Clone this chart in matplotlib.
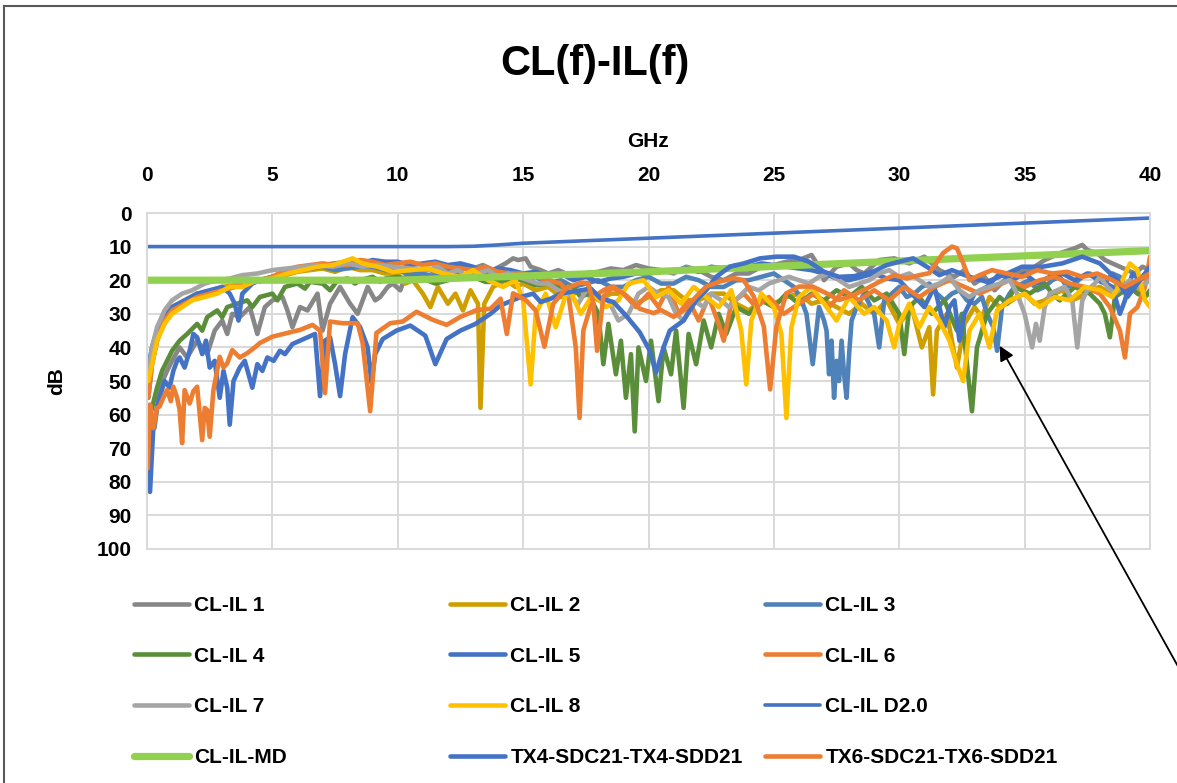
import numpy as np
import matplotlib.pyplot as plt
from matplotlib.lines import Line2D

plt.rcParams['font.family'] = ['Liberation Sans', 'DejaVu Sans']
plt.rcParams['font.weight'] = 'bold'

# (GHz, dB) points
cl1 = [(0.05, 62), (0.3, 64), (0.5, 52), (0.8, 47), (1.0, 44), (1.3, 40), (1.6, 43), (2.0, 38), (2.4, 42), (2.7, 35),
       (3.0, 32), (3.2, 36), (3.4, 30), (3.7, 31), (4.1, 28), (4.4, 36), (4.7, 28), (5.0, 26), (5.4, 25), (5.6, 29),
       (5.8, 34), (6.1, 28), (6.4, 29), (6.8, 24), (7.0, 35), (7.3, 27), (7.7, 22), (8.1, 27), (8.4, 30), (8.8, 22),
       (9.1, 26), (9.3, 25), (9.6, 22), (9.8, 21), (10.1, 23), (10.3, 19), (10.6, 18), (10.8, 17), (11.2, 16.5),
       (11.5, 18), (11.9, 16), (12.2, 17), (12.6, 16), (13.0, 16.5), (13.4, 15.5), (13.8, 17), (14.3, 15), (14.6, 13.5),
       (14.8, 14), (15.1, 13.5), (15.3, 16), (15.7, 17), (16.0, 18), (16.4, 17), (17.0, 19), (17.4, 18), (18.0, 17.5),
       (18.5, 16.5), (19.0, 17), (19.5, 15.5), (20.0, 16.5), (20.5, 17), (21.0, 18), (21.5, 16), (22.0, 17), (22.5, 19),
       (23.0, 20), (23.5, 18), (24.0, 18), (24.5, 16), (25.0, 15.5), (25.5, 14.5), (26.0, 14), (26.5, 12.5), (26.8, 16),
       (27.0, 20), (27.5, 16), (28.0, 15), (28.3, 17), (28.6, 18), (29.2, 14), (29.8, 13.5), (30.4, 15), (31.0, 13),
       (31.3, 15), (31.6, 17), (32.2, 19), (32.6, 17), (33.0, 21), (33.4, 19), (33.8, 23), (34.2, 20), (34.5, 18),
       (35.2, 17), (35.8, 14), (36.1, 13), (36.4, 12), (36.8, 11), (37.0, 10.5), (37.3, 9.5), (37.5, 11), (37.9, 12),
       (38.2, 14), (38.8, 16), (39.4, 18), (39.7, 16), (40.0, 17)]

cl2 = [(0.05, 47), (0.2, 42), (0.4, 36), (0.7, 31), (1.0, 28), (1.5, 26), (2.0, 24), (2.5, 23.5), (3.0, 22), (3.5, 21.5),
       (4.0, 20), (4.5, 20.5), (5.0, 19), (5.5, 18.5), (6.0, 17.5), (6.5, 17), (7.0, 16.5), (7.5, 17.5), (8.0, 16),
       (8.5, 17), (9.0, 17), (9.5, 18), (10.0, 18), (10.3, 21), (10.6, 20), (11.0, 24), (11.3, 28), (11.6, 22), (12.0, 27),
       (12.3, 24), (12.6, 29), (12.9, 23), (13.2, 27), (13.3, 58), (13.45, 27), (13.8, 22), (14.3, 20), (14.7, 22),
       (15.0, 21), (15.5, 23), (16.0, 22), (16.5, 25), (17.0, 24), (17.5, 23), (18.0, 26), (18.5, 24), (19.0, 24),
       (19.5, 27), (20.0, 25), (20.5, 23), (21.0, 23), (21.5, 26), (22.0, 26), (22.5, 24), (23.0, 24), (23.5, 27),
       (24.0, 29), (24.5, 26), (25.0, 27), (25.5, 25), (26.0, 24), (26.5, 27), (27.0, 26), (27.5, 28), (28.0, 30),
       (28.5, 27), (29.0, 30), (29.5, 26), (30.0, 33), (30.5, 28), (30.9, 40), (31.2, 34), (31.35, 54), (31.5, 35),
       (31.9, 30), (32.1, 38), (32.3, 46), (32.6, 33), (33.0, 28), (33.3, 31), (33.6, 25), (34.0, 28), (34.3, 27),
       (34.7, 25), (35.0, 24), (35.4, 27), (35.8, 26), (36.2, 24), (36.5, 23), (36.9, 26), (37.2, 25), (37.6, 23),
       (38.0, 22), (38.4, 24), (38.8, 20), (39.1, 22), (39.4, 22), (39.7, 25), (40.0, 24)]

cl3 = [(0.05, 55), (0.2, 45), (0.4, 38), (0.7, 32), (1.0, 29), (1.5, 27), (2.0, 25), (2.5, 24), (3.0, 23), (3.5, 22),
       (4.0, 21), (4.5, 20), (5.0, 19), (5.5, 18), (6.0, 17), (6.5, 16.5), (7.0, 16), (7.5, 17), (8.0, 16.5), (8.5, 16),
       (9.0, 16), (9.5, 17), (10.0, 17), (10.5, 18.5), (11.0, 18), (11.5, 19), (12.0, 17), (12.5, 18), (13.0, 19),
       (13.5, 17.5), (14.0, 18), (14.5, 19), (15.0, 20), (15.5, 19), (16.0, 21), (16.5, 20), (17.0, 22), (17.5, 21),
       (18.0, 20), (18.5, 22), (19.0, 22), (19.5, 20), (20.0, 19), (20.5, 21), (21.0, 21), (21.5, 19), (22.0, 20),
       (22.5, 22), (23.0, 22), (23.5, 20), (24.0, 20), (24.5, 19), (25.0, 18), (25.4, 20), (25.8, 22), (26.1, 26),
       (26.3, 30), (26.55, 45), (26.8, 28), (27.0, 32), (27.1, 35), (27.2, 48), (27.3, 38), (27.4, 55), (27.5, 44),
       (27.6, 50), (27.7, 38), (27.8, 48), (27.9, 55), (28.0, 42), (28.1, 32), (28.3, 28), (28.6, 24), (29.0, 30),
       (29.2, 40), (29.4, 26), (29.7, 24), (30.0, 22), (30.3, 25), (30.6, 24), (30.9, 22), (31.2, 21), (31.5, 24),
       (31.8, 26), (32.1, 24), (32.4, 23), (32.7, 26), (33.0, 27), (33.3, 25), (33.5, 30), (33.75, 34), (33.9, 41),
       (34.1, 28), (34.4, 24), (34.6, 22), (34.9, 21), (35.2, 20), (35.5, 23), (35.8, 22), (36.1, 20), (36.4, 19),
       (36.7, 22), (37.0, 21), (37.3, 19), (37.6, 18), (37.9, 20), (38.2, 21), (38.5, 18), (38.8, 19), (39.1, 23),
       (39.4, 22), (39.7, 19), (40.0, 20)]

cl4 = [(0.05, 62), (0.2, 58), (0.4, 52), (0.6, 47), (0.8, 44), (1.0, 41), (1.3, 38), (1.6, 36), (2.0, 33), (2.2, 35),
       (2.4, 31), (2.8, 29), (3.0, 31), (3.2, 28), (3.6, 27), (4.0, 26), (4.2, 28), (4.5, 25), (5.0, 24), (5.2, 26),
       (5.5, 22), (6.0, 21), (6.3, 22.5), (6.5, 20.5), (7.0, 21), (7.3, 23), (7.6, 20), (8.0, 19.5), (8.3, 21), (8.5, 20),
       (9.0, 19), (9.3, 20.5), (9.5, 19.5), (10.0, 19), (10.5, 20), (11.0, 19.5), (11.5, 21), (12.0, 20), (12.5, 19),
       (13.0, 19), (13.5, 20.5), (14.0, 20.5), (14.5, 19.5), (15.0, 20), (15.5, 21.5), (16.0, 21), (16.5, 22), (17.0, 22),
       (17.3, 25), (17.6, 24), (18.0, 30), (18.2, 45), (18.4, 33), (18.7, 48), (18.9, 38), (19.1, 55), (19.3, 42),
       (19.45, 65), (19.6, 40), (19.9, 50), (20.1, 38), (20.4, 56), (20.6, 40), (20.9, 48), (21.1, 35), (21.4, 58),
       (21.6, 36), (21.9, 45), (22.2, 32), (22.5, 40), (22.8, 30), (23.1, 36), (23.5, 28), (24.0, 30), (24.5, 26),
       (25.0, 28), (25.5, 24), (26.0, 27), (26.5, 24), (27.0, 26), (27.5, 23), (28.0, 25), (28.5, 22), (29.0, 26),
       (29.5, 24), (30.0, 30), (30.2, 42), (30.4, 28), (30.8, 25), (31.3, 30), (31.8, 26), (32.3, 35), (32.5, 30),
       (32.7, 45), (32.9, 59), (33.1, 40), (33.5, 30), (34.0, 25), (34.3, 27), (34.6, 22), (35.2, 24), (35.8, 21),
       (36.1, 24), (36.4, 26), (37.0, 22), (37.6, 24), (38.0, 27), (38.2, 30), (38.4, 37), (38.6, 25), (39.2, 22),
       (39.5, 24), (39.8, 25), (40.0, 23)]

cl5 = [(0.05, 46), (0.2, 40), (0.4, 35), (0.7, 31), (1.0, 28), (1.5, 26), (2.0, 24), (2.5, 23), (3.0, 22), (3.3, 24),
       (3.5, 27), (3.65, 32), (3.8, 24), (4.2, 21), (4.5, 20), (5.0, 19), (5.5, 18), (6.0, 17), (6.5, 16), (7.0, 15.5),
       (7.5, 15), (8.0, 14.5), (8.5, 15), (9.0, 14), (9.5, 14.5), (10.0, 14.5), (10.5, 15.5), (11.0, 15), (11.5, 14.5),
       (12.0, 15.5), (12.5, 15), (13.0, 16), (13.5, 17.5), (14.0, 16.5), (14.5, 17), (15.0, 18), (15.5, 17.5),
       (16.0, 19), (16.5, 18), (17.0, 20), (17.5, 19), (18.0, 20.5), (18.5, 19.5), (19.0, 19), (19.5, 18), (20.0, 18),
       (20.5, 17.5), (21.0, 17), (21.5, 16.5), (22.0, 17.5), (22.5, 16), (23.0, 16.5), (23.5, 15.5), (24.0, 16),
       (24.5, 15), (25.0, 15.5), (25.5, 16), (26.0, 16.5), (26.5, 17), (27.0, 18), (27.5, 19.5), (28.0, 20),
       (28.5, 19), (29.0, 18), (29.5, 19.5), (30.0, 20), (30.5, 24), (31.0, 28), (31.4, 22), (31.8, 34), (32.0, 28),
       (32.2, 26), (32.4, 38), (32.6, 30), (33.0, 24), (33.5, 22), (34.0, 18), (34.5, 20), (35.0, 18), (35.5, 21),
       (36.0, 19), (36.5, 18), (37.0, 20), (37.5, 18), (38.0, 20), (38.5, 22), (38.8, 30), (39.0, 26), (39.3, 18),
       (39.6, 20), (40.0, 18)]

cl6 = [(0.05, 55), (0.2, 45), (0.4, 38), (0.7, 32), (1.0, 29), (1.5, 27), (2.0, 25), (2.5, 24), (3.0, 23), (3.5, 22),
       (4.0, 21), (4.5, 20), (5.0, 19), (5.5, 17), (6.0, 16), (6.5, 15.5), (7.0, 15), (7.5, 15.5), (8.0, 15.5),
       (8.5, 14), (9.0, 14.5), (9.5, 15.5), (10.0, 15), (10.5, 14.5), (11.0, 15.5), (11.5, 15), (12.0, 16), (12.5, 16.5),
       (13.0, 17), (13.5, 16), (14.0, 17.5), (14.5, 18), (15.0, 18), (15.5, 19), (16.0, 20), (16.5, 21), (16.8, 24),
       (17.1, 40), (17.25, 61), (17.4, 35), (17.8, 25), (18.2, 23), (18.5, 22), (19.0, 24), (19.5, 28), (20.0, 24),
       (20.4, 28), (20.8, 22), (21.2, 30), (21.6, 26), (22.0, 32), (22.4, 25), (22.8, 33), (23.0, 38), (23.3, 27),
       (23.8, 24), (24.3, 28), (24.8, 25), (25.4, 30), (26.0, 27), (26.6, 24), (27.2, 28), (27.8, 23), (28.4, 26),
       (29.0, 23), (29.6, 26), (30.2, 22), (30.8, 25), (31.4, 22), (32.0, 20), (32.6, 22), (33.2, 24), (33.8, 22),
       (34.4, 20), (35.0, 22), (35.6, 20), (36.2, 19), (36.8, 21), (37.4, 22), (38.0, 24), (38.4, 28), (38.8, 35),
       (39.0, 43), (39.2, 30), (39.5, 28), (39.8, 22), (40.0, 13)]

cl7 = [(0.05, 48), (0.2, 40), (0.4, 34), (0.7, 29), (1.0, 26), (1.4, 24), (1.8, 23), (2.3, 21), (2.8, 20), (3.3, 19.5),
       (3.8, 18.5), (4.4, 18), (5.0, 17), (5.6, 16.5), (6.2, 16), (6.8, 15.5), (7.4, 16), (8.0, 15), (8.6, 16),
       (9.2, 15.5), (9.8, 16), (10.5, 16.5), (11.2, 17), (11.6, 16), (12.0, 18), (12.4, 17), (12.8, 19), (13.2, 18),
       (13.6, 17), (14.0, 19), (14.4, 18), (14.8, 19), (15.2, 20), (15.6, 21), (16.0, 21), (16.4, 23), (16.8, 24),
       (17.2, 27), (17.6, 22), (18.0, 25), (18.4, 26), (18.8, 32), (19.2, 30), (19.6, 24), (20.0, 22), (20.4, 24),
       (20.8, 25), (21.1, 30), (21.4, 32), (21.8, 26), (22.2, 28), (22.5, 24), (22.9, 26), (23.2, 28), (23.6, 25),
       (24.0, 22), (24.4, 23), (24.8, 21), (25.2, 20), (25.6, 19), (26.0, 20), (26.4, 21), (26.8, 19), (27.2, 18),
       (27.6, 20), (28.0, 22), (28.4, 21), (28.8, 20), (29.2, 18), (29.6, 17), (30.0, 19), (30.4, 18), (30.8, 20),
       (31.2, 22), (31.6, 21), (32.0, 19), (32.4, 23), (32.8, 25), (33.2, 23), (33.6, 22), (34.0, 21), (34.4, 20),
       (34.7, 24), (35.0, 30), (35.3, 40), (35.45, 33), (35.6, 38), (35.8, 28), (36.0, 24), (36.3, 23), (36.6, 22),
       (36.9, 26), (37.1, 40), (37.3, 26), (37.5, 23), (37.8, 21), (38.0, 19), (38.3, 22), (38.6, 24), (38.9, 22),
       (39.2, 20), (39.6, 22), (40.0, 20)]

cl8 = [(0.05, 50), (0.2, 45), (0.4, 38), (0.7, 33), (1.0, 30), (1.4, 28), (1.8, 26), (2.3, 25), (2.8, 24), (3.3, 22),
       (3.8, 22), (4.4, 20), (5.0, 19.5), (5.6, 18), (6.2, 17), (6.8, 16), (7.4, 15.5), (7.8, 14.5), (8.2, 13.5),
       (8.6, 15), (9.2, 16), (9.8, 17.5), (10.5, 17), (11.2, 16.5), (11.8, 18), (12.5, 19), (13.0, 17), (13.6, 20),
       (14.2, 22), (14.7, 20), (15.0, 26), (15.3, 51), (15.5, 30), (15.9, 24), (16.3, 34), (16.8, 22), (17.3, 30),
       (17.8, 24), (18.3, 28), (18.8, 26), (19.2, 21), (19.8, 20), (20.3, 25), (20.8, 23), (21.3, 27), (21.8, 22),
       (22.3, 25), (22.8, 28), (23.3, 23), (23.7, 35), (23.9, 51), (24.1, 32), (24.5, 24), (25.0, 28), (25.3, 36),
       (25.5, 61), (25.7, 34), (26.0, 25), (26.5, 22), (27.0, 27), (27.5, 32), (28.0, 25), (28.6, 30), (29.0, 28),
       (29.5, 32), (29.8, 40), (30.0, 33), (30.4, 27), (30.8, 34), (31.2, 28), (31.6, 32), (32.0, 38), (32.3, 45),
       (32.55, 50), (32.8, 35), (33.2, 30), (33.6, 40), (33.9, 29), (34.4, 26), (35.0, 24), (35.6, 28), (36.2, 25),
       (36.8, 26), (37.4, 22), (38.0, 23), (38.5, 25), (38.9, 20), (39.2, 15), (39.5, 17), (39.8, 26), (40.0, 28)]

cl_d20 = [(0, 10), (12, 10), (13, 9.9), (14, 9.5), (15, 9.0), (20, 7.5), (25, 6.0), (30, 4.5), (35, 3.0), (40, 1.5)]

cl_md = [(0, 20), (10, 20), (20, 17.5), (30, 14.3), (40, 11.2)]

tx4 = [(0.05, 60), (0.12, 83), (0.25, 64), (0.4, 58), (0.5, 55), (0.7, 50), (0.9, 52), (1.05, 47), (1.2, 44), (1.3, 43),
       (1.5, 46), (1.7, 41), (1.85, 36), (2.0, 37), (2.2, 42), (2.35, 38), (2.5, 46), (2.7, 44), (2.9, 55), (3.05, 47),
       (3.2, 52), (3.3, 63), (3.45, 50), (3.7, 46), (3.9, 44), (4.05, 48), (4.2, 52), (4.4, 45), (4.6, 47), (4.8, 43),
       (5.05, 44), (5.3, 41), (5.5, 42), (5.8, 39), (6.1, 38), (6.4, 37), (6.7, 36), (6.9, 54.5), (7.1, 38), (7.3, 37),
       (7.5, 45), (7.7, 54.5), (7.9, 42), (8.2, 31), (8.5, 34), (8.8, 40), (8.95, 50.5), (9.1, 42), (9.4, 37.5),
       (9.95, 35), (10.5, 33.5), (11.1, 36.5), (11.5, 45), (11.95, 37.5), (12.5, 35), (13.1, 33), (13.7, 30),
       (14.1, 27.5), (14.9, 25), (15.4, 24), (15.7, 26.5), (16.1, 25.5), (16.5, 24), (17.3, 23), (17.7, 22.5),
       (18.1, 25.5), (18.6, 26.5), (19.1, 30.5), (19.65, 35.5), (20.05, 41), (20.3, 47.5), (20.6, 40), (20.85, 35),
       (21.4, 32), (21.9, 26), (22.3, 23), (22.7, 19), (23.25, 16), (23.8, 15), (24.45, 13.5), (25.1, 13), (25.8, 13),
       (26.4, 14.5), (27.0, 17.5), (27.6, 19), (28.2, 18.8), (29.0, 17.3), (29.5, 15.5), (30.0, 14.5), (30.55, 13.5),
       (31.1, 16), (31.6, 18.5), (32.1, 17), (32.8, 19), (33.5, 20.5), (34.3, 18), (34.9, 16), (35.7, 16), (36.5, 15),
       (37.3, 13), (38.0, 15), (38.7, 20), (39.1, 25), (39.5, 21), (40.0, 16)]

tx6 = [(0.03, 76), (0.12, 57), (0.25, 64), (0.4, 58), (0.5, 57.6), (0.65, 55), (0.8, 52.7), (0.95, 56), (1.05, 51.7),
       (1.2, 55), (1.3, 58.6), (1.4, 68.5), (1.5, 52.7), (1.7, 56.7), (1.85, 53), (2.0, 51.7), (2.2, 67.6), (2.3, 58),
       (2.4, 58.6), (2.5, 66.6), (2.65, 52.7), (2.9, 42.8), (3.05, 46), (3.2, 44.7), (3.4, 40.8), (3.7, 43), (4.0, 41.7),
       (4.3, 40), (4.5, 38.7), (5.0, 36.8), (5.6, 35.7), (6.1, 34.8), (6.6, 33.3), (6.9, 35), (7.1, 53.6), (7.3, 32.3),
       (7.8, 32.8), (8.4, 32.8), (8.6, 38.7), (8.9, 59), (9.15, 35.7), (9.7, 32.8), (10.2, 32.3), (10.75, 29.4),
       (11.4, 31.8), (11.95, 33.3), (12.5, 30.9), (13.15, 28.9), (13.7, 28.5), (14.1, 25.5), (14.35, 36), (14.6, 23.9),
       (15.1, 25.9), (15.5, 29), (15.85, 39.8), (16.2, 27), (16.7, 22.5), (17.3, 20.7), (17.6, 21), (17.8, 26.9),
       (17.95, 41), (18.2, 24.9), (18.6, 21.9), (19.1, 24.5), (19.65, 28.5), (20.2, 29.8), (20.5, 28.9), (21.0, 30.9),
       (21.4, 29), (21.9, 24.9), (22.3, 21.9), (22.85, 20.4), (23.4, 19.4), (23.8, 20), (24.2, 24.9), (24.6, 33.8),
       (24.85, 52.5), (25.1, 33.8), (25.5, 23.9), (26.0, 21.9), (26.55, 21.9), (27.1, 23.9), (27.6, 25.9),
       (28.15, 24.5), (28.7, 22.5), (29.2, 20.5), (29.8, 18.5), (30.3, 19.5), (30.8, 18.5), (31.2, 17.9), (31.75, 11.9),
       (32.1, 10), (32.3, 10.5), (32.55, 14.9), (32.8, 20), (33.2, 18.5), (33.7, 17), (34.3, 18), (34.9, 19), (35.5, 17),
       (36.1, 18), (36.7, 17.5), (37.3, 19), (37.9, 18), (38.5, 20), (39.0, 22), (39.5, 20), (40.0, 18)]

labels = ["CL-IL 1", "CL-IL 2", "CL-IL 3", "CL-IL 4", "CL-IL 5", "CL-IL 6",
          "CL-IL 7", "CL-IL 8", "CL-IL D2.0", "CL-IL-MD", "TX4-SDC21-TX4-SDD21", "TX6-SDC21-TX6-SDD21"]
data = [cl1, cl2, cl3, cl4, cl5, cl6, cl7, cl8, cl_d20, cl_md, tx4, tx6]
colors = ["#878787", "#CF9E00", "#4F82B8", "#5B8E3A", "#4472C4", "#ED7D31",
          "#A5A5A5", "#FFC000", "#4472C4", "#92D050", "#4472C4", "#ED7D31"]
widths = [3.3, 3.3, 3.3, 3.3, 3.3, 3.3, 3.3, 3.3, 2.6, 5.2, 3.3, 3.3]

W, H = 1177, 783
fig = plt.figure(figsize=(W / 100, H / 100), dpi=100)
ax = fig.add_axes([147 / W, 1 - 549 / H, (1150 - 147) / W, (549 - 213) / H])

lines = []
for pts, lab, col, lw in zip(data, labels, colors, widths):
    f, db = np.array(pts).T
    ln, = ax.plot(f, db, color=col, lw=lw, label=lab, solid_joinstyle='round', solid_capstyle='round')
    lines.append(ln)

ax.set_xlim(0, 40)
ax.set_ylim(100, 0)
ax.set_xticks(np.arange(0, 41, 5))
ax.set_yticks(np.arange(0, 101, 10))
ax.xaxis.tick_top()
ax.xaxis.set_label_position('top')
ax.tick_params(length=0, labelsize=15)
ax.tick_params(axis='x', pad=20)
ax.tick_params(axis='y', pad=11)
ax.grid(color='#D9D9D9', lw=1.4)
ax.set_axisbelow(True)
for s in ax.spines.values():
    s.set_color('#D9D9D9')
    s.set_linewidth(1.4)
ax.set_xlabel('GHz', fontsize=15, fontweight='bold', labelpad=14)
ax.set_ylabel('dB', fontsize=15, fontweight='bold', labelpad=22)

fig.text(595 / W, 1 - 64 / H, 'CL(f)-IL(f)', ha='center', va='center', fontsize=30, fontweight='bold')

# legend: 3 columns, 4 rows, filled row by row
col_x = [134, 450, 765]
for c in range(3):
    idx = [c, c + 3, c + 6, c + 9]
    leg = fig.legend([lines[i] for i in idx], [labels[i] for i in idx], loc='upper left',
                     bbox_to_anchor=(col_x[c] / W, 1 - 596 / H), frameon=False, borderpad=0,
                     borderaxespad=0, handlelength=2.65, handletextpad=0.25, labelspacing=1.52,
                     prop={'weight': 'bold', 'size': 15})

# arrow pointing at the CL-IL 3 dip
ax.annotate('', xy=(33.95, 38.8), xycoords='data', xytext=(1190, H - 688), textcoords='figure pixels',
            arrowprops=dict(arrowstyle='-|>', color='black', lw=1.3, mutation_scale=22), annotation_clip=False)

# outer chart border (cropped on right/bottom)
fig.add_artist(Line2D([3.5 / W, 3.5 / W], [0, 1 - 6 / H], color='#595959', lw=1.5, transform=fig.transFigure))
fig.add_artist(Line2D([3.5 / W, 1], [1 - 6 / H, 1 - 6 / H], color='#595959', lw=1.5, transform=fig.transFigure))

fig.savefig('out.png', dpi=100)
